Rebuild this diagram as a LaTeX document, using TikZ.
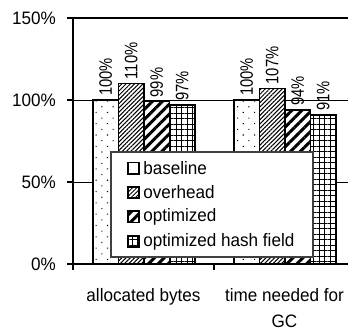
\documentclass[tikz,border=0pt]{standalone}
\usepackage{fontspec}
\setmainfont{Liberation Sans}[FakeStretch=0.95]
\newfontfamily\barlabelfont{Liberation Sans}[FakeStretch=0.82]
\usetikzlibrary{positioning, patterns.meta}

\begin{document}
\begin{tikzpicture}[
            x=1pt, y=1.64pt, % y is in percent
            axis/.style={line width=1.8pt},
            gridline/.style={line width=1pt},
            bar/.style={draw, line width=1.7pt, preaction={fill=white}},
            basefill/.style={pattern={Dots[angle=45, distance=8pt, radius=0.75pt]}},
            overfill/.style={pattern={Lines[angle=45, distance=3pt, line width=1pt]}},
            optfill/.style={pattern={Lines[angle=45, distance=7pt, line width=3pt]}},
            hashfill/.style={pattern={Hatch[angle=0, distance=5.5pt, line width=0.9pt]}},
            barlabel/.style={rotate=90, anchor=west, inner sep=0, font=\fontsize{18}{21}\barlabelfont},
            ticklabel/.style={anchor=east, inner sep=0, font=\fontsize{18}{21}\selectfont},
            catlabel/.style={anchor=north, inner sep=0, align=center, font=\fontsize{18}{26.5}\selectfont},
            keybox/.style={draw, line width=1.6pt, minimum size=11.5pt, inner sep=0},
            keytext/.style={anchor=west, inner sep=1pt, font=\fontsize{18}{21}\selectfont}
        ]
            \useasboundingbox (0,-42.07) rectangle (348,160.98);

            % grid and frame
            \foreach \v in {50,100}
                \draw[gridline] (73,\v) -- (348,\v);
            \draw[axis] (67,150) -- (348,150);
            \draw[axis] (67,0) -- (348,0);
            \draw[axis] (73,150) -- (73,-3.66);
            \draw[axis] (214,0) -- (214,-3.66);
            \foreach \v in {0,50,100,150} {
                \draw[axis] (67,\v) -- (73,\v);
                \node[ticklabel] (tick\v) at (56,\v) {\v\%};
            }

            % bars
            \foreach \n/\x/\v/\sty in {a1/93/100/basefill, a2/118.5/110/overfill, a3/144/99/optfill, a4/169.5/97/hashfill,
                                      b1/234/100/basefill, b2/259.5/107/overfill, b3/285/94/optfill, b4/310.5/91/hashfill} {
                \draw[bar, \sty] (\x,0) rectangle ++(25.5,\v);
                \node[barlabel] (lab\n) at (\x+12.75,\v+2.5) {\v\%};
            }

            \node[catlabel] (bytes) at (143.5,-14.63) {allocated bytes};
            \node[catlabel] (gctime) at (284.5,-14.63) {time needed for\\GC};

            % legend
            \node[draw=black!75, line width=1.2pt, fill=white, minimum width=202pt, minimum height=105pt, inner sep=0] (legend) at (212,36.28) {};
            \node[keybox] (kbase) at (133.5,58.5) {};
            \node[keybox, overfill] (kover) at (133.5,43.6) {};
            \node[keybox, optfill] (kopt) at (133.5,28.7) {};
            \node[keybox, hashfill] (khash) at (133.5,13.7) {};
            \node[keytext, right=2pt of kbase] (tbase) {baseline};
            \node[keytext, right=2pt of kover] (tover) {overhead};
            \node[keytext, right=2pt of kopt] (topt) {optimized};
            \node[keytext, right=2pt of khash] (thash) {optimized hash field};
        \end{tikzpicture}
\end{document}
